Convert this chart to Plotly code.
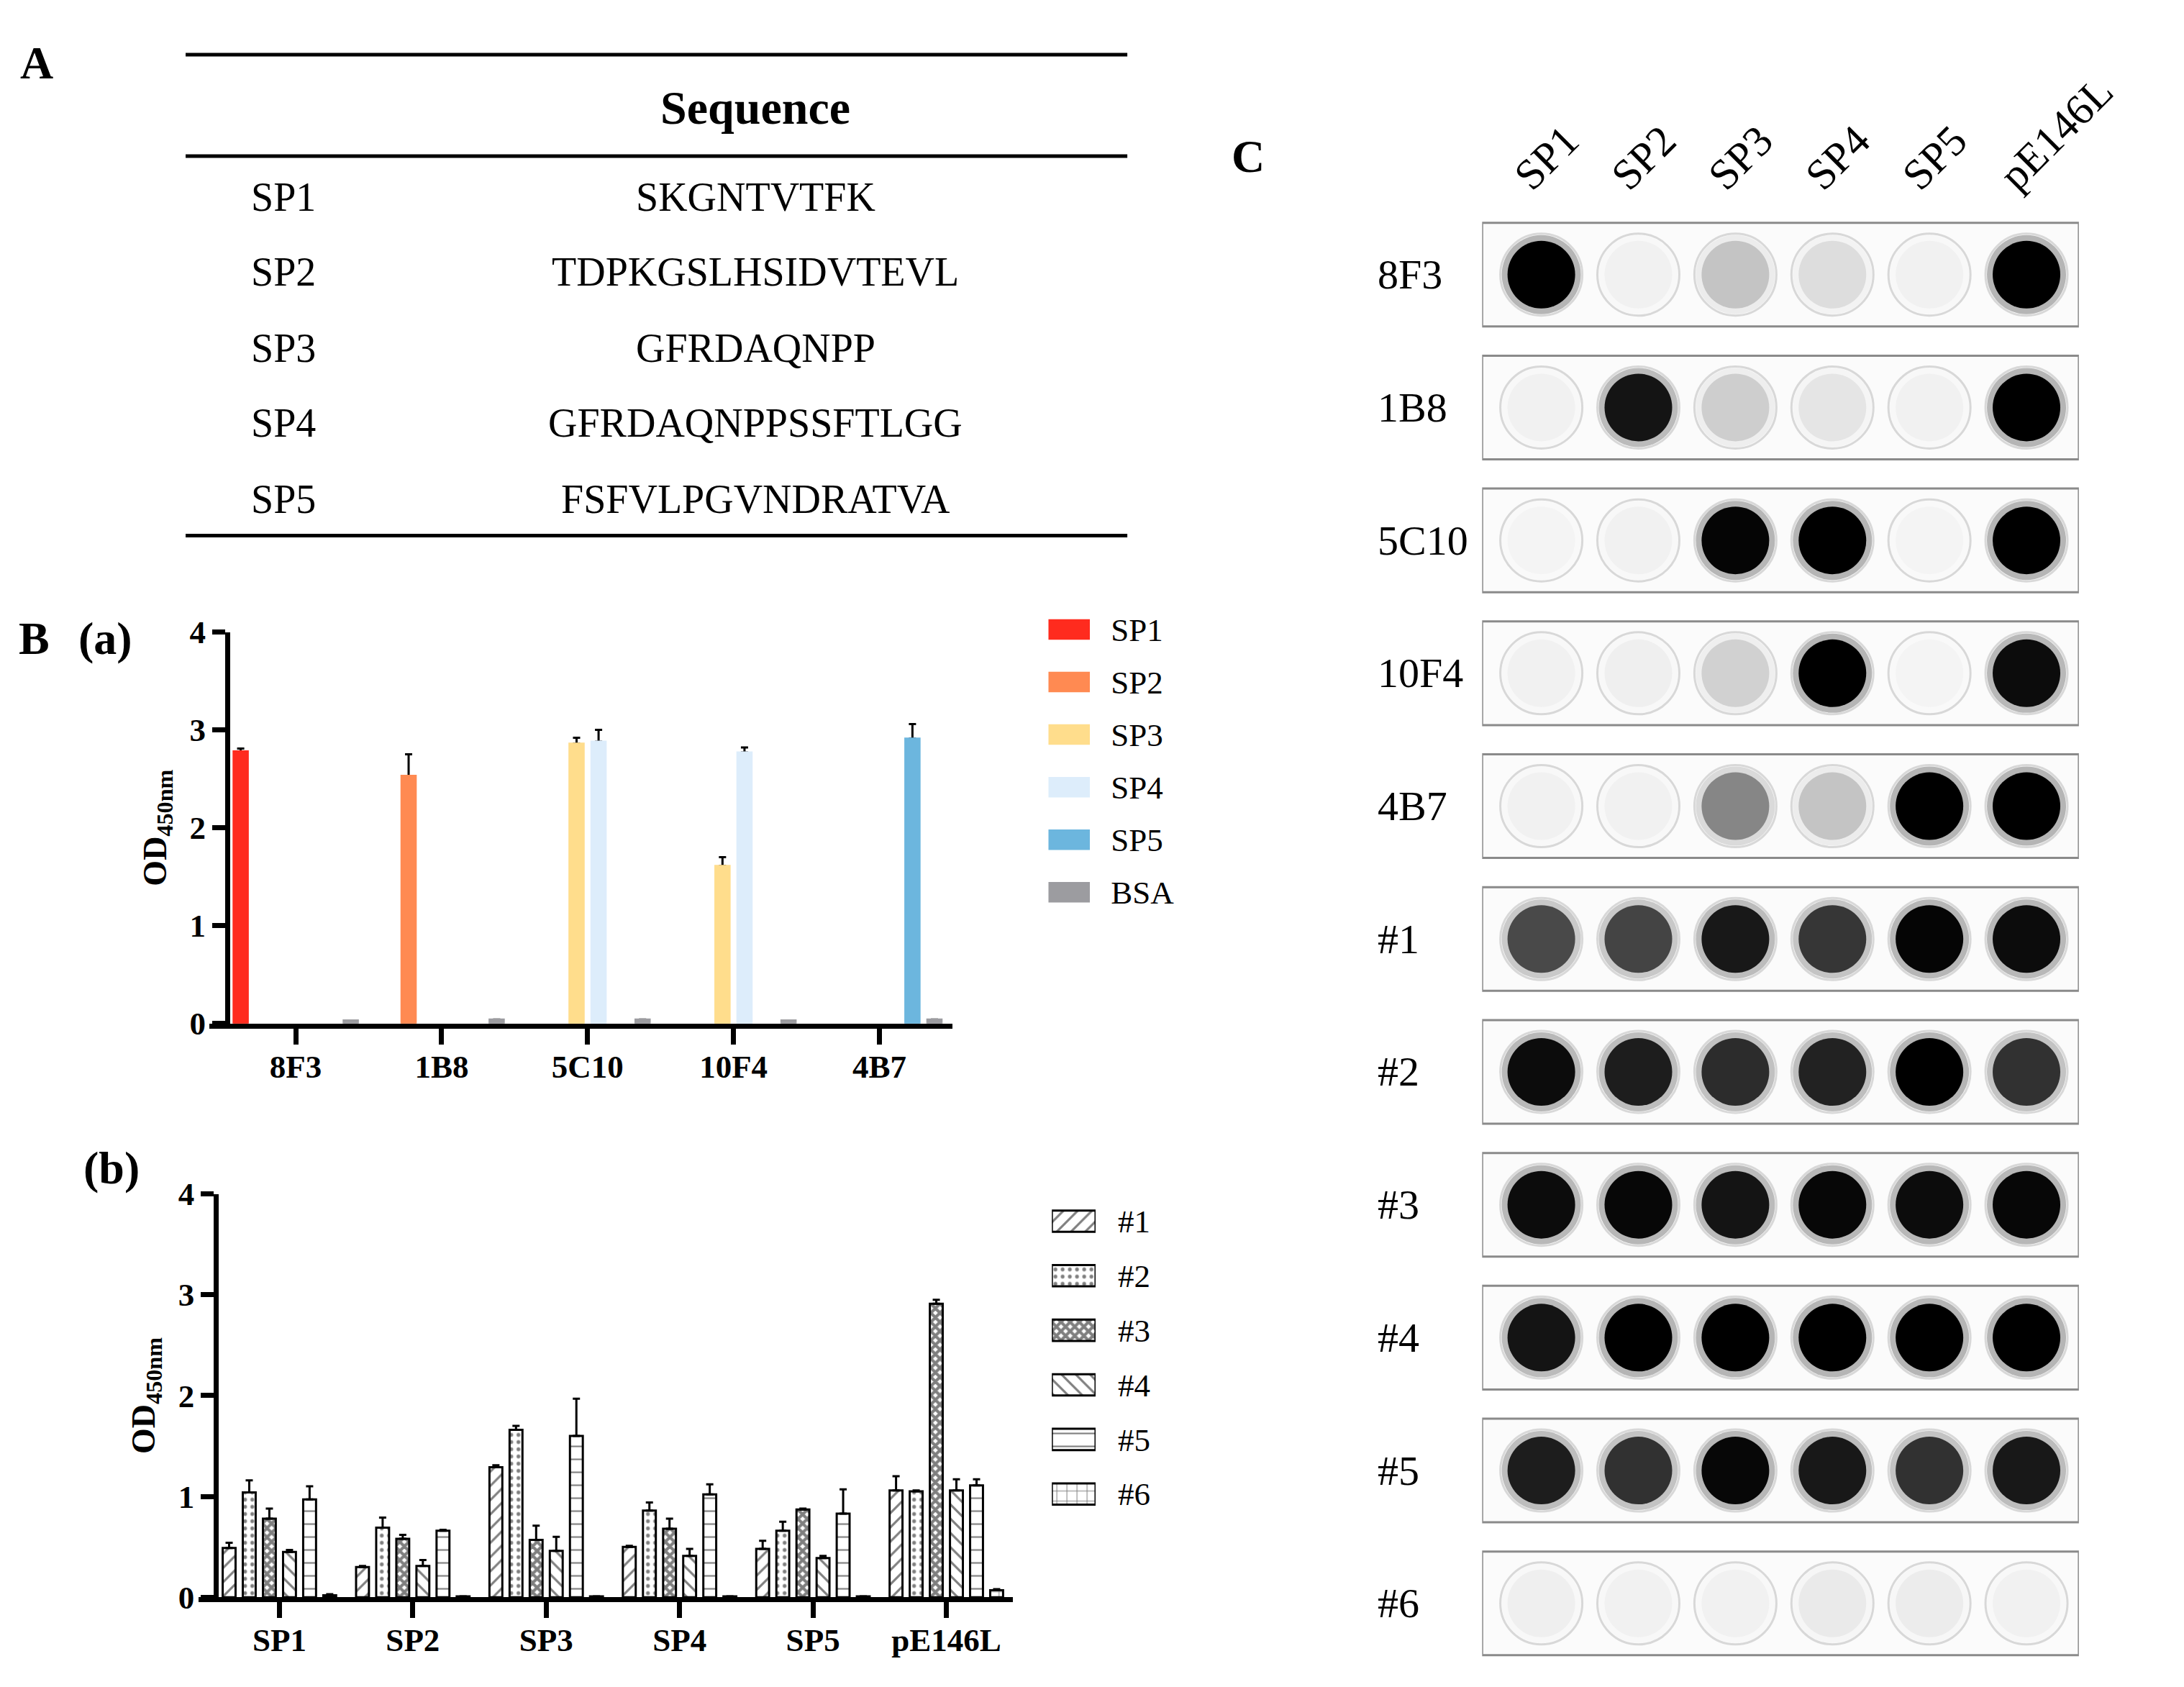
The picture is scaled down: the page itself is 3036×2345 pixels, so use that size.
import plotly.graph_objects as go

W, H = 3036, 2345
SERIF = "Liberation Serif"

# ---------------- data ----------------
# A: peptide table
peptide_names = ["SP1", "SP2", "SP3", "SP4", "SP5"]
peptide_seqs = ["SKGNTVTFK", "TDPKGSLHSIDVTEVL", "GFRDAQNPP",
                "GFRDAQNPPSSFTLGG", "FSFVLPGVNDRATVA"]

# B(a): mAb ELISA, one list per coated antigen, values over mabs
mabs = ["8F3", "1B8", "5C10", "10F4", "4B7"]
antigens_a = ["SP1", "SP2", "SP3", "SP4", "SP5", "BSA"]
od_a_sp1 = [2.78, 0, 0, 0, 0]
od_a_sp2 = [0, 2.53, 0, 0, 0]
od_a_sp3 = [0, 0, 2.86, 1.61, 0]
od_a_sp4 = [0, 0, 2.88, 2.77, 0]
od_a_sp5 = [0, 0, 0, 0, 2.91]
od_a_bsa = [0.03, 0.04, 0.04, 0.03, 0.04]
err_a_sp1 = [0.03, 0, 0, 0, 0]
err_a_sp2 = [0, 0.22, 0, 0, 0]
err_a_sp3 = [0, 0, 0.06, 0.09, 0]
err_a_sp4 = [0, 0, 0.12, 0.05, 0]
err_a_sp5 = [0, 0, 0, 0, 0.15]
err_a_bsa = [0, 0, 0, 0, 0]

# B(b): sera ELISA, one list per serum, values over antigens_b
antigens_b = ["SP1", "SP2", "SP3", "SP4", "SP5", "pE146L"]
sera = ["#1", "#2", "#3", "#4", "#5", "#6"]
od_s1 = [0.49, 0.30, 1.29, 0.50, 0.48, 1.06]
od_s2 = [1.04, 0.69, 1.66, 0.86, 0.66, 1.05]
od_s3 = [0.78, 0.58, 0.57, 0.68, 0.87, 2.91]
od_s4 = [0.45, 0.31, 0.46, 0.41, 0.39, 1.06]
od_s5 = [0.97, 0.66, 1.60, 1.02, 0.83, 1.11]
od_s6 = [0.02, 0.01, 0.01, 0.01, 0.01, 0.07]
err_s1 = [0.05, 0.01, 0.02, 0.01, 0.08, 0.14]
err_s2 = [0.12, 0.10, 0.04, 0.08, 0.09, 0.01]
err_s3 = [0.10, 0.04, 0.14, 0.10, 0.01, 0.04]
err_s4 = [0.02, 0.06, 0.14, 0.07, 0.02, 0.11]
err_s5 = [0.13, 0.01, 0.37, 0.10, 0.24, 0.06]
err_s6 = [0.01, 0, 0, 0, 0, 0.01]

# C: dot blot, spot darkness 0 (blank) .. 1 (black), rows x blot_cols
blot_rows = ["8F3", "1B8", "5C10", "10F4", "4B7", "#1", "#2", "#3", "#4", "#5", "#6"]
blot_cols = ["SP1", "SP2", "SP3", "SP4", "SP5", "pE146L"]
blot_signal = [
    [1.00, 0.02, 0.20, 0.10, 0.02, 1.00],
    [0.02, 0.92, 0.16, 0.07, 0.02, 1.00],
    [0.01, 0.02, 0.98, 1.00, 0.01, 1.00],
    [0.02, 0.03, 0.15, 1.00, 0.01, 0.95],
    [0.02, 0.02, 0.45, 0.20, 1.00, 1.00],
    [0.70, 0.72, 0.90, 0.78, 0.98, 0.95],
    [0.95, 0.88, 0.82, 0.86, 1.00, 0.80],
    [0.95, 0.97, 0.92, 0.97, 0.95, 0.97],
    [0.92, 1.00, 1.00, 1.00, 1.00, 1.00],
    [0.88, 0.80, 0.97, 0.90, 0.80, 0.90],
    [0.03, 0.02, 0.02, 0.05, 0.04, 0.02],
]

# ---------------- styles ----------------
colors_a = ["#FF2B1E", "#FF8A52", "#FFDD8C", "#DDEDFB", "#6CB6DE", "#9C9CA0"]
pat_shapes = ["/", ".", "x", "\\", "-", "+"]
pat_sizes = [14, 10, 9, 14, 18, 14]
pat_solid = [0.22, 0.22, 0.72, 0.22, 0.12, 0.14]


def px_x(p):
    return p / W


def px_y(p):
    return 1 - p / H


def txt(text, xp, yp, size, xanchor="center", yref="paper", bold=False):
    return dict(text=text, x=px_x(xp), y=yp if yref != "paper" else px_y(yp),
                xref="paper", yref=yref, xanchor=xanchor, yanchor="middle", showarrow=False,
                font=dict(family=SERIF, size=size, color="black", weight="bold" if bold else "normal"))


fig = go.Figure()

# ---- B(a): error bars carried by clear bars underneath, coloured bars on an overlay axis
#      (the coloured bars then hide the lower cap of each error bar)
od_a = [od_a_sp1, od_a_sp2, od_a_sp3, od_a_sp4, od_a_sp5, od_a_bsa]
err_a = [err_a_sp1, err_a_sp2, err_a_sp3, err_a_sp4, err_a_sp5, err_a_bsa]
for name, vals, errs in zip(antigens_a, od_a, err_a):
    keep = [i for i, v in enumerate(vals) if v > 0]
    fig.add_trace(go.Bar(
        x=[mabs[i] for i in keep], y=[vals[i] for i in keep], name=name,
        marker=dict(color="rgba(0,0,0,0)", line=dict(width=0)),
        error_y=dict(type="data", array=[errs[i] for i in keep], arrayminus=[0] * len(keep),
                     symmetric=False, color="black", thickness=3, width=5),
        xaxis="x", yaxis="y", showlegend=False, hoverinfo="skip"))
for name, col, vals in zip(antigens_a, colors_a, od_a):
    fig.add_trace(go.Bar(
        x=mabs, y=vals, name=name,
        marker=dict(color=col, line=dict(color=col, width=[3 if v > 0 else 0 for v in vals])),
        xaxis="x", yaxis="y6", showlegend=False))

# ---- B(b) bars
od_b = [od_s1, od_s2, od_s3, od_s4, od_s5, od_s6]
err_b = [err_s1, err_s2, err_s3, err_s4, err_s5, err_s6]
for i, (name, vals, errs) in enumerate(zip(sera, od_b, err_b)):
    fig.add_trace(go.Bar(
        x=antigens_b, y=vals, name=name,
        marker=dict(color="white", line=dict(color="black", width=3),
                    pattern=dict(shape=pat_shapes[i], size=pat_sizes[i], solidity=pat_solid[i],
                                 fgcolor="black", bgcolor="white")),
        error_y=dict(type="data", array=errs, arrayminus=[0] * len(errs), symmetric=False,
                     color="black", thickness=3, width=5),
        xaxis="x2", yaxis="y2", showlegend=False))

# ---- legends drawn as swatch bars on hidden axes
fig.add_trace(go.Bar(
    x=[1] * len(antigens_a), y=antigens_a, orientation="h", width=0.39,
    marker=dict(color=colors_a, line=dict(width=0)),
    xaxis="x4", yaxis="y4", showlegend=False, hoverinfo="skip"))
fig.add_trace(go.Bar(
    x=[1] * len(sera), y=sera, orientation="h", width=0.39,
    marker=dict(color="white", line=dict(color="black", width=3),
                pattern=dict(shape=pat_shapes, size=pat_sizes, solidity=pat_solid,
                             fgcolor="black", bgcolor="white")),
    xaxis="x5", yaxis="y5", showlegend=False, hoverinfo="skip"))

# ---- C dot blot
bx = [c for r in blot_rows for c in blot_cols]
by = [r for r in blot_rows for c in blot_cols]
bz = [v for row in blot_signal for v in row]
gray = [[0, "#f6f6f6"], [0.5, "#7a7a7a"], [1, "#000000"]]
fig.add_trace(go.Scatter(
    x=bx, y=by, mode="markers", xaxis="x3", yaxis="y3", showlegend=False, hoverinfo="skip",
    marker=dict(symbol="circle-open", size=114, color="#d8d8d8", line=dict(width=3))))
fig.add_trace(go.Scatter(
    x=bx, y=by, mode="markers", xaxis="x3", yaxis="y3", showlegend=False, hoverinfo="skip",
    marker=dict(symbol="circle", size=110, color=bz, colorscale=gray, cmin=0, cmax=1,
                opacity=0.28, line=dict(width=0))))
fig.add_trace(go.Scatter(
    x=bx, y=by, mode="markers", xaxis="x3", yaxis="y3", showlegend=False,
    marker=dict(symbol="circle", size=94, color=bz, colorscale=gray, cmin=0, cmax=1,
                line=dict(width=0))))

# strips behind each blot row
shapes = []
for i in range(len(blot_rows)):
    shapes.append(dict(type="rect", xref="x3", yref="y3", x0=-0.61, x1=5.54,
                       y0=i - 0.39, y1=i + 0.39, fillcolor="#fbfbfb",
                       line=dict(color="#8a8a8a", width=3), layer="below"))

# table rules
for yp in [45, 189, 728]:
    shapes.append(dict(type="line", xref="paper", yref="paper",
                       x0=px_x(255), x1=px_x(1590), y0=px_y(yp), y1=px_y(yp),
                       line=dict(color="black", width=5)))

annotations = [txt("Sequence", 1063, 120, 66, bold=True)]
row_px = [247, 354, 462, 568, 676]
for name, seq, yp in zip(peptide_names, peptide_seqs, row_px):
    annotations.append(txt(name, 346, yp, 56, xanchor="left"))
    annotations.append(txt(seq, 1063, yp, 56))

# panel letters
for label, xp, yp in [("A", 44, 57), ("B", 40, 874), ("(a)", 141, 874),
                      ("(b)", 150, 1626), ("C", 1761, 190)]:
    annotations.append(txt(label, xp, yp, 64, bold=True))

# blot row labels (left aligned)
for r in blot_rows:
    annotations.append(txt(r, 1943, r, 58, xanchor="left", yref="y3"))

tick_bold = dict(family=SERIF, size=45, color="black", weight="bold")
ax_common = dict(showgrid=False, zeroline=False, showline=True, linecolor="black", linewidth=7,
                 ticks="outside", tickwidth=7, tickcolor="black", tickfont=tick_bold)
ytitle = dict(text="OD<sub>450nm</sub>", font=dict(family=SERIF, size=46, color="black", weight="bold"),
              standoff=16)

fig.update_layout(
    width=W, height=H, margin=dict(l=0, r=0, t=0, b=0),
    paper_bgcolor="white", plot_bgcolor="rgba(0,0,0,0)",
    barmode="group", bargap=0.095, bargroupgap=0.36,
    font=dict(family=SERIF, color="black"),
    shapes=shapes, annotations=annotations,
    # Prism style: x axis line runs a little past the y axis on the left
    xaxis=dict(domain=[px_x(289), px_x(1342)], range=[-0.59, 4.5], anchor="y",
               ticklen=22, ticklabelstandoff=-8, **ax_common),
    yaxis=dict(domain=[px_y(1421), px_y(865)], range=[0, 4], anchor="free", position=px_x(314),
               tickvals=[0, 1, 2, 3, 4], ticklen=18, title=ytitle, **ax_common),
    yaxis6=dict(overlaying="y", range=[0, 4], anchor="x", visible=False),
    xaxis2=dict(domain=[px_x(273), px_x(1428)], range=[-0.608, 5.5], anchor="y2",
                ticklen=22, ticklabelstandoff=-8, **ax_common),
    yaxis2=dict(domain=[px_y(2236), px_y(1663)], range=[0, 4], anchor="free", position=px_x(298),
                tickvals=[0, 1, 2, 3, 4], ticklen=18, title=ytitle, **ax_common),
    xaxis3=dict(domain=[px_x(2093), px_x(2939)], range=[-0.61, 5.54], anchor="y3", side="top",
                type="category", categoryarray=blot_cols, showgrid=False, zeroline=False, showline=False,
                ticks="", tickangle=-45, ticklabelshift=-34,
                tickfont=dict(family=SERIF, size=60, color="black")),
    yaxis3=dict(domain=[px_y(2339), px_y(263)], range=[10.5, -0.5], anchor="x3",
                type="category", categoryarray=blot_rows, showgrid=False, zeroline=False,
                showline=False, showticklabels=False, ticks=""),
    xaxis4=dict(domain=[px_x(1478), px_x(1537)], range=[0, 1], anchor="y4", visible=False),
    yaxis4=dict(domain=[px_y(1272), px_y(824)], range=[5.5, -0.5], anchor="x4", side="right",
                type="category", showgrid=False, zeroline=False, showline=False, ticks="",
                ticklabelstandoff=28, tickfont=dict(family=SERIF, size=45, color="black")),
    xaxis5=dict(domain=[px_x(1483), px_x(1545)], range=[0, 1], anchor="y5", visible=False),
    yaxis5=dict(domain=[px_y(2128), px_y(1663)], range=[5.5, -0.5], anchor="x5", side="right",
                type="category", showgrid=False, zeroline=False, showline=False, ticks="",
                ticklabelstandoff=30, tickfont=dict(family=SERIF, size=45, color="black")),
)

fig.write_html("out.html")
